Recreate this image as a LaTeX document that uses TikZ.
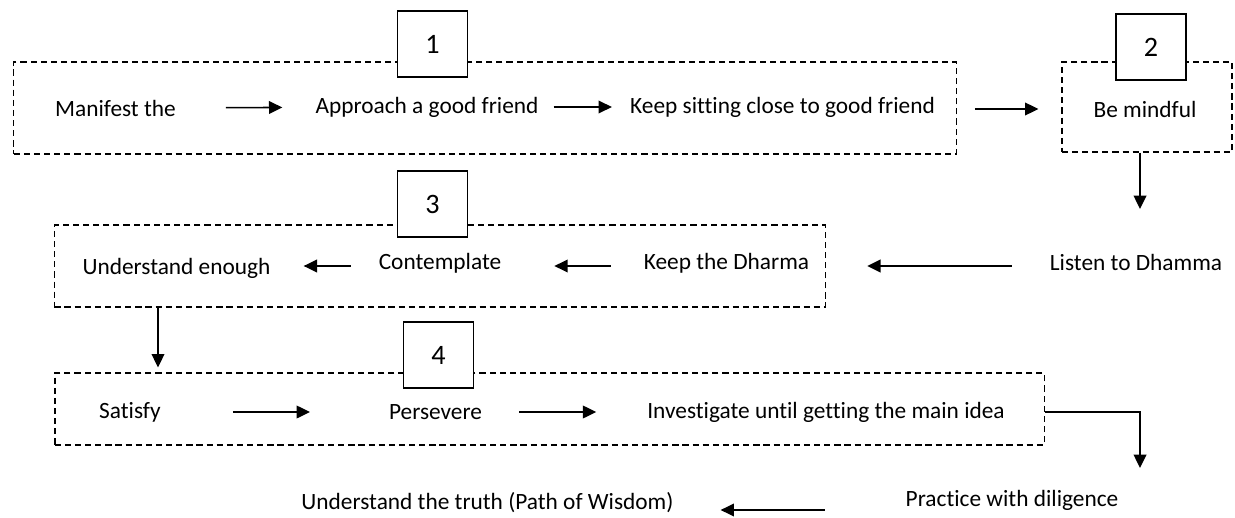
\documentclass[tikz,border=0pt]{standalone}
\usepackage{fontspec}
\setmainfont[Ligatures={NoCommon}]{Carlito}
\usetikzlibrary{arrows.meta}

\tikzset{
  groupbox/.style={draw, dash pattern=on 4.4pt off 2.8pt, line width=1.1pt, inner sep=0pt},
  numbox/.style={draw, fill=white, line width=1pt, minimum width=50pt, minimum height=47pt, inner sep=0pt, font=\fontsize{20}{23}\selectfont},
  txt/.style={inner sep=0pt, font=\fontsize{16.6}{19}\selectfont},
  flow/.style={-{Triangle[length=9.5pt,width=9pt]}, line width=1.1pt},
}

\begin{document}
\begin{tikzpicture}[x=0.025cm,y=-0.025cm]
  \useasboundingbox (0,0) rectangle (1235,518);
  % dashed groups
  \node[groupbox, minimum width=670.4pt, minimum height=65.2pt] (grp1) at (485,108) {};
  \node[groupbox, minimum width=121.2pt, minimum height=63.8pt] (grp2) at (1147,107) {};
  \node[groupbox, minimum width=548.5pt, minimum height=58.1pt] (grp3) at (440,266) {};
  \node[groupbox, minimum width=703.7pt, minimum height=51pt] (grp4) at (549.5,409) {};
  % numbers
  \node[numbox] (n1) at (432.5,44) {1};
  \node[numbox] (n2) at (1151,47) {2};
  \node[numbox] (n3) at (432.5,204) {3};
  \node[numbox] (n4) at (438.5,355) {4};
  % steps
  \node[txt] (manifest) at (115.5,108) {Manifest the};
  \node[txt] (approach) at (427,107) {Approach a good friend};
  \node[txt] (keepsit) at (782.5,107) {Keep sitting close to good friend};
  \node[txt] (mindful) at (1145,109) {Be mindful};
  \node[txt] (listen) at (1136,262) {Listen to Dhamma};
  \node[txt] (keepdh) at (726.5,263) {Keep the Dharma};
  \node[txt] (contemplate) at (440,263) {Contemplate};
  \node[txt] (understand) at (176.5,268) {Understand enough};
  \node[txt] (satisfy) at (130,412) {Satisfy};
  \node[txt] (persevere) at (435.5,412) {Persevere};
  \node[txt] (investigate) at (826,412) {Investigate until getting the main idea};
  \node[txt] (practice) at (1012,500) {Practice with diligence};
  \node[txt] (truth) at (487.5,503) {Understand the truth (Path of Wisdom)};
  \coordinate (t4) at (1140,209);
  \coordinate (c8) at (158,0);
  \coordinate (t9) at (1140,468);
  % arrows
  \draw[flow, shorten <=35.4pt, shorten >=23.4pt] (manifest) -- (approach);
  \draw[flow, shorten <=10.6pt, shorten >=12.8pt] (approach) -- (keepsit);
  \draw[flow, shorten <=28.3pt, shorten >=39pt] (keepsit.east |- mindful) -- (mindful);
  \draw[flow] (grp2.south -| t4) -- (t4);
  \draw[flow, shorten <=26.9pt, shorten >=41.1pt] (listen.west |- 0,266) -- (keepdh.east |- 0,266);
  \draw[flow, shorten <=23.4pt, shorten >=37.6pt] (keepdh.west |- 0,266) -- (contemplate.east |- 0,266);
  \draw[flow, shorten <=19.8pt, shorten >=23.4pt] (contemplate.west |- 0,266) -- (understand.east |- 0,266);
  \draw[flow, shorten >=3.5pt] (grp3.south -| c8) -- (grp4.north -| c8);
  \draw[flow, shorten <=51pt, shorten >=56pt] (satisfy) -- (persevere);
  \draw[flow, shorten <=26.2pt, shorten >=36.1pt] (persevere) -- (investigate);
  \draw[flow] (investigate.east -| grp4.east) -| (t9);
  \draw[flow, shorten <=57.4pt, shorten >=33.3pt] (practice.west |- 0,510) -- (truth.east |- 0,510);
\end{tikzpicture}
\end{document}
